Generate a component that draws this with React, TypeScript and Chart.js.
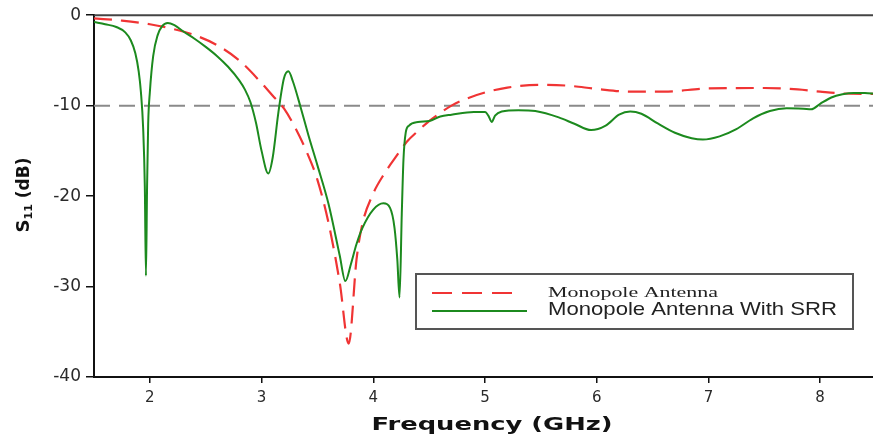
import React, { useEffect, useRef } from "react";
import { Chart, registerables } from "chart.js";

Chart.register(...registerables);

// ---- Data ----
const freqMono = [1.5, 1.75, 2.0, 2.2, 2.4, 2.6, 2.8, 3.0, 3.1, 3.2, 3.3, 3.4, 3.5, 3.6, 3.7, 3.78, 3.85, 3.9, 4.0, 4.1, 4.2, 4.3, 4.4, 4.5, 4.6, 4.7, 4.8, 5.0, 5.2, 5.5, 5.75, 6.0, 6.3, 6.6, 7.0, 7.5, 7.8, 8.0, 8.2, 8.5];
const s11Mono = [-0.35, -0.6, -1.0, -1.5, -2.2, -3.3, -5.0, -7.5, -8.9, -10.3, -12.4, -15.0, -18.2, -23.0, -29.6, -36.3, -27.0, -23.2, -19.7, -17.5, -15.7, -14.0, -12.8, -11.7, -10.8, -10.0, -9.4, -8.55, -8.0, -7.7, -7.8, -8.15, -8.45, -8.45, -8.1, -8.05, -8.2, -8.45, -8.65, -8.7];

const freqSrr = [1.5, 1.6, 1.7, 1.78, 1.83, 1.87, 1.9, 1.92, 1.94, 1.955, 1.965, 1.975, 1.985, 2.0, 2.03, 2.07, 2.11, 2.16, 2.22, 2.3, 2.4, 2.5, 2.6, 2.7, 2.8, 2.85, 2.9, 2.95, 3.0, 3.06, 3.1, 3.15, 3.2, 3.24, 3.28, 3.35, 3.42, 3.5, 3.6, 3.7, 3.75, 3.8, 3.85, 3.9, 4.0, 4.09, 4.15, 4.19, 4.215, 4.235, 4.255, 4.27, 4.29, 4.32, 4.4, 4.5, 4.6, 4.7, 4.9, 5.0, 5.03, 5.06, 5.09, 5.15, 5.3, 5.45, 5.66, 5.8, 5.95, 6.08, 6.2, 6.3, 6.4, 6.55, 6.7, 6.85, 6.95, 7.1, 7.25, 7.4, 7.55, 7.7, 7.85, 7.92, 8.0, 8.1, 8.2, 8.3, 8.4, 8.5];
const s11Srr = [-0.75, -1.0, -1.3, -1.9, -2.8, -4.2, -6.2, -8.5, -12.5, -19, -28.8, -19, -12, -8.5, -4.5, -2.2, -1.2, -0.85, -1.1, -1.8, -2.6, -3.5, -4.5, -5.7, -7.2, -8.2, -9.6, -11.9, -15.0, -17.5, -15.7, -10.8, -7.0, -6.2, -7.3, -10.2, -13.3, -16.6, -20.9, -26.6, -29.4, -27.5, -25.3, -23.6, -21.5, -20.8, -21.3, -23.5, -27, -31.2, -22, -16, -13.0, -12.2, -11.8, -11.7, -11.2, -11.0, -10.7, -10.7, -11.1, -11.8, -11.1, -10.65, -10.5, -10.6, -11.3, -12.0, -12.7, -12.2, -11.0, -10.65, -10.9, -12.0, -13.0, -13.6, -13.75, -13.4, -12.6, -11.4, -10.6, -10.3, -10.35, -10.4, -9.8, -9.1, -8.75, -8.6, -8.6, -8.7];

const xTickValues = [2, 3, 4, 5, 6, 7, 8];
const yTickValues = [0, -10, -20, -30, -40];
const thresholdDb = -10;
const freqRange = [1.5, 8.5];
const seriesLabels = ["Monopole Antenna", "Monopole Antenna With SRR"];

const RED = "rgb(240,52,52)";
const GREEN = "rgb(28,138,30)";
const GRAY = "rgb(138,138,138)";

function drawStretched(ctx: CanvasRenderingContext2D, text: string, x: number, y: number, font: string, targetW: number, align: "left" | "center") {
  ctx.save();
  ctx.font = font;
  ctx.textAlign = "left";
  const w = ctx.measureText(text).width;
  const sx = targetW / w;
  ctx.translate(x, y);
  ctx.scale(sx, 1);
  ctx.fillText(text, align === "center" ? -w / 2 : 0, 0);
  ctx.restore();
}

const decorPlugin = {
  id: "decor",
  afterDatasetsDraw(chart: any) {
    const ctx: CanvasRenderingContext2D = chart.ctx;
    const area = chart.chartArea;
    ctx.save();
    ctx.strokeStyle = "#444";
    ctx.lineWidth = 2;
    ctx.beginPath();
    ctx.moveTo(area.left, area.top);
    ctx.lineTo(area.right + 10, area.top);
    ctx.stroke();
    ctx.restore();
  },
  afterDraw(chart: any) {
    const ctx: CanvasRenderingContext2D = chart.ctx;
    // X title
    ctx.save();
    ctx.fillStyle = "#111";
    ctx.textBaseline = "alphabetic";
    drawStretched(ctx, "Frequency (GHz)", 492, 430, "bold 17px 'DejaVu Sans'", 241, "center");
    ctx.restore();

    // Y title with subscript
    ctx.save();
    ctx.fillStyle = "#111";
    ctx.translate(29, 195);
    ctx.rotate(-Math.PI / 2);
    ctx.textBaseline = "alphabetic";
    ctx.textAlign = "left";
    const fMain = "bold 18px 'DejaVu Sans'";
    const fSub = "bold 11px 'DejaVu Sans'";
    const fRest = "bold 17px 'DejaVu Sans'";
    ctx.font = fMain;
    const wS = ctx.measureText("S").width;
    ctx.font = fSub;
    const w11 = ctx.measureText("11").width;
    ctx.font = fRest;
    const wR = ctx.measureText(" (dB)").width;
    let x = -(wS + w11 + wR) / 2;
    ctx.font = fMain;
    ctx.fillText("S", x, 0);
    x += wS;
    ctx.font = fSub;
    ctx.fillText("11", x, 3);
    x += w11;
    ctx.font = fRest;
    ctx.fillText(" (dB)", x, 0);
    ctx.restore();

    // Legend
    ctx.save();
    ctx.fillStyle = "#fff";
    ctx.fillRect(416, 274, 437, 55);
    ctx.strokeStyle = "#555";
    ctx.lineWidth = 2;
    ctx.strokeRect(416, 274, 437, 55);
    ctx.lineWidth = 2;
    ctx.strokeStyle = RED;
    ctx.setLineDash([20, 10]);
    ctx.beginPath();
    ctx.moveTo(432, 293);
    ctx.lineTo(517, 293);
    ctx.stroke();
    ctx.setLineDash([]);
    ctx.strokeStyle = GREEN;
    ctx.beginPath();
    ctx.moveTo(432, 311);
    ctx.lineTo(527, 311);
    ctx.stroke();
    ctx.fillStyle = "#222";
    ctx.textBaseline = "middle";
    drawStretched(ctx, seriesLabels[0], 548, 293, "15px 'Liberation Serif'", 170, "left");
    drawStretched(ctx, seriesLabels[1], 548, 310, "19px 'Liberation Sans'", 289, "left");
    ctx.restore();
  },
};

export default function App() {
  const ref = useRef<HTMLCanvasElement | null>(null);

  useEffect(() => {
    document.body.style.margin = "0";
    document.body.style.overflow = "hidden";
    if (!ref.current) return;
    const mono = freqMono.map((f, i) => ({ x: f, y: s11Mono[i] }));
    const srr = freqSrr.map((f, i) => ({ x: f, y: s11Srr[i] }));
    const ref10 = freqRange.map((f) => ({ x: f, y: thresholdDb }));

    const chart = new Chart(ref.current, {
      type: "line",
      data: {
        datasets: [
          {
            label: "threshold",
            data: ref10,
            borderColor: GRAY,
            borderWidth: 2,
            borderDash: [16, 9],
            pointRadius: 0,
            order: 3,
          },
          {
            label: seriesLabels[0],
            data: mono,
            borderColor: RED,
            borderWidth: 2.2,
            borderDash: [18, 9],
            pointRadius: 0,
            cubicInterpolationMode: "monotone",
            order: 2,
          },
          {
            label: seriesLabels[1],
            data: srr,
            borderColor: GREEN,
            borderWidth: 2,
            pointRadius: 0,
            cubicInterpolationMode: "monotone",
            order: 1,
          },
        ],
      },
      options: {
        animation: false,
        responsive: true,
        maintainAspectRatio: false,
        layout: { padding: { top: 14, right: 4, left: 0, bottom: 0 } },
        plugins: {
          legend: { display: false },
          tooltip: { enabled: false },
        },
        scales: {
          x: {
            type: "linear",
            min: freqRange[0],
            max: freqRange[1],
            afterBuildTicks: (scale: any) => {
              scale.ticks = xTickValues.map((v) => ({ value: v }));
            },
            afterFit: (scale: any) => {
              scale.height = 60;
            },
            grid: {
              display: true,
              drawOnChartArea: false,
              drawTicks: true,
              tickLength: 6,
              color: "#111",
              lineWidth: 1.5,
            },
            border: { display: true, color: "#111", width: 2 },
            ticks: {
              color: "#2a2a2a",
              padding: 6,
              font: { family: "'DejaVu Sans'", size: 15 },
              maxRotation: 0,
              autoSkip: false,
            },
          },
          y: {
            type: "linear",
            min: -40,
            max: 0,
            afterBuildTicks: (scale: any) => {
              scale.ticks = yTickValues.map((v) => ({ value: v }));
            },
            afterFit: (scale: any) => {
              scale.width = 94;
            },
            grid: {
              display: true,
              drawOnChartArea: false,
              drawTicks: true,
              tickLength: 8,
              color: "#111",
              lineWidth: 1.5,
            },
            border: { display: true, color: "#111", width: 2 },
            ticks: {
              color: "#2a2a2a",
              padding: 5,
              font: { family: "'DejaVu Sans'", size: 17 },
              autoSkip: false,
            },
          },
        },
      },
      plugins: [decorPlugin],
    });
    return () => chart.destroy();
  }, []);

  return (
    <div style={{ position: "absolute", left: 0, top: 0, width: 880, height: 437 }}>
      <canvas ref={ref} />
    </div>
  );
}
